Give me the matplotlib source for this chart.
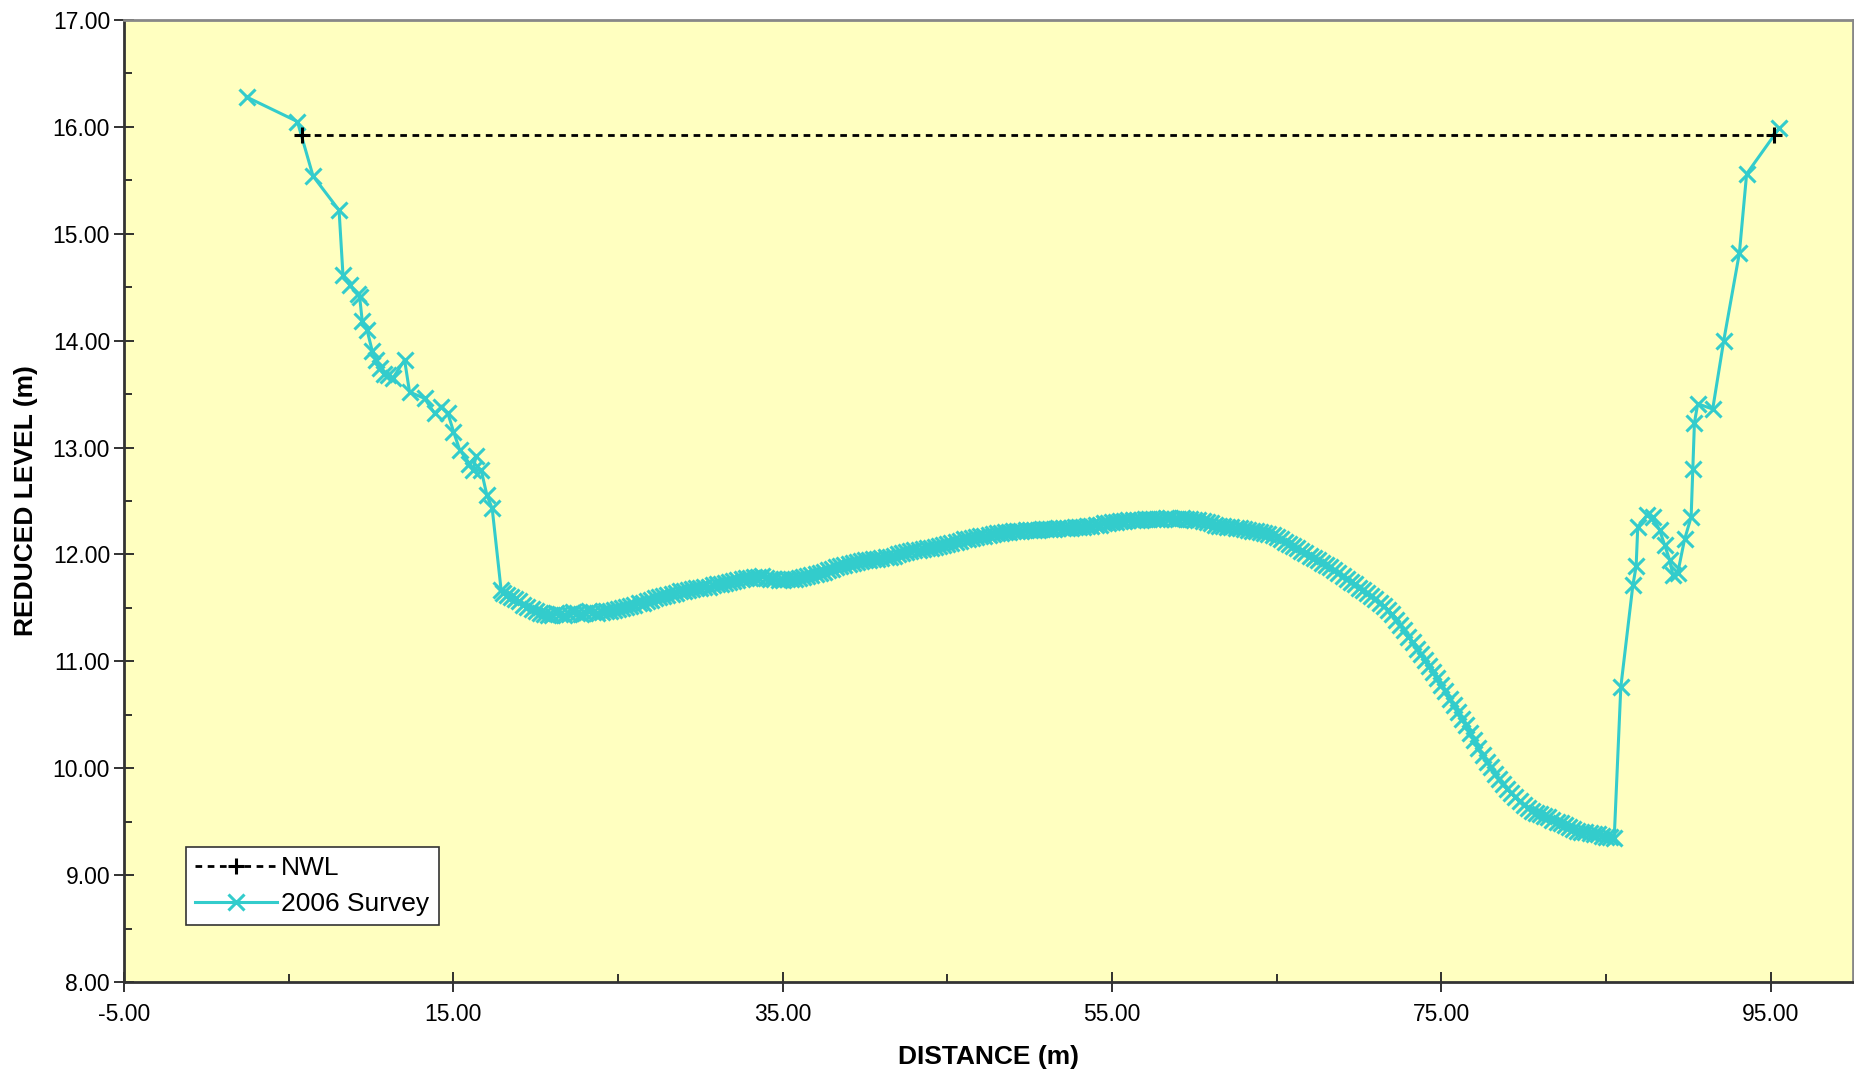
import matplotlib
matplotlib.use("Agg")
import matplotlib.pyplot as plt
from matplotlib.ticker import MultipleLocator, FixedLocator, FormatStrFormatter

plt.rcParams["font.family"] = ["Liberation Sans", "DejaVu Sans"]

# ── data ─────────────────────────────────────────────
nwl_x = [5.81, 95.2]
nwl_y = [15.92, 15.92]

# left bank
bank_l_x = [2.44, 5.53, 6.48, 8.06, 8.30, 8.71, 9.21, 9.31, 9.47, 9.76,
            10.08, 10.32, 10.52, 10.77, 11.03, 11.33, 12.04, 12.34, 13.25, 13.86,
            14.27, 14.67, 15.01, 15.38, 15.98, 16.39, 16.18, 16.69, 17.03, 17.36,
            17.90]
bank_l_y = [16.28, 16.05, 15.54, 15.22, 14.61, 14.52, 14.44, 14.41, 14.18, 14.10,
            13.90, 13.82, 13.74, 13.69, 13.68, 13.65, 13.82, 13.52, 13.46, 13.32,
            13.38, 13.32, 13.15, 12.98, 12.85, 12.92, 12.79, 12.79, 12.56, 12.43,
            11.67]

# channel bed (dense survey)
bed_x = [18.00, 18.25, 18.50, 18.75, 19.00, 19.25, 19.50, 19.75, 20.00, 20.25,
         20.50, 20.75, 21.00, 21.25, 21.50, 21.75, 22.00, 22.25, 22.50, 22.75,
         23.00, 23.25, 23.50, 23.75, 24.00, 24.25, 24.50, 24.75, 25.00, 25.25,
         25.50, 25.75, 26.00, 26.25, 26.50, 26.75, 27.00, 27.25, 27.50, 27.75,
         28.00, 28.25, 28.50, 28.75, 29.00, 29.25, 29.50, 29.75, 30.00, 30.25,
         30.50, 30.75, 31.00, 31.25, 31.50, 31.75, 32.00, 32.25, 32.50, 32.75,
         33.00, 33.25, 33.50, 33.75, 34.00, 34.25, 34.50, 34.75, 35.00, 35.25,
         35.50, 35.75, 36.00, 36.25, 36.50, 36.75, 37.00, 37.25, 37.50, 37.75,
         38.00, 38.25, 38.50, 38.75, 39.00, 39.25, 39.50, 39.75, 40.00, 40.25,
         40.50, 40.75, 41.00, 41.25, 41.50, 41.75, 42.00, 42.25, 42.50, 42.75,
         43.00, 43.25, 43.50, 43.75, 44.00, 44.25, 44.50, 44.75, 45.00, 45.25,
         45.50, 45.75, 46.00, 46.25, 46.50, 46.75, 47.00, 47.25, 47.50, 47.75,
         48.00, 48.25, 48.50, 48.75, 49.00, 49.25, 49.50, 49.75, 50.00, 50.25,
         50.50, 50.75, 51.00, 51.25, 51.50, 51.75, 52.00, 52.25, 52.50, 52.75,
         53.00, 53.25, 53.50, 53.75, 54.00, 54.25, 54.50, 54.75, 55.00, 55.25,
         55.50, 55.75, 56.00, 56.25, 56.50, 56.75, 57.00, 57.25, 57.50, 57.75,
         58.00, 58.25, 58.50, 58.75, 59.00, 59.25, 59.50, 59.75, 60.00, 60.25,
         60.50, 60.75, 61.00, 61.25, 61.50, 61.75, 62.00, 62.25, 62.50, 62.75,
         63.00, 63.25, 63.50, 63.75, 64.00, 64.25, 64.50, 64.75, 65.00, 65.25,
         65.50, 65.75, 66.00, 66.25, 66.50, 66.75, 67.00, 67.25, 67.50, 67.75,
         68.00, 68.25, 68.50, 68.75, 69.00, 69.25, 69.50, 69.75, 70.00, 70.25,
         70.50, 70.75, 71.00, 71.25, 71.50, 71.75, 72.00, 72.25, 72.50, 72.75,
         73.00, 73.25, 73.50, 73.75, 74.00, 74.25, 74.50, 74.75, 75.00, 75.25,
         75.50, 75.75, 76.00, 76.25, 76.50, 76.75, 77.00, 77.25, 77.50, 77.75,
         78.00, 78.25, 78.50, 78.75, 79.00, 79.25, 79.50, 79.75, 80.00, 80.25,
         80.50, 80.75, 81.00, 81.25, 81.50, 81.75, 82.00, 82.25, 82.50, 82.75,
         83.00, 83.25, 83.50, 83.75, 84.00, 84.25, 84.50, 84.75, 85.00, 85.25,
         85.50]
bed_y = [11.64, 11.62, 11.60, 11.58, 11.56, 11.53, 11.51, 11.49, 11.47, 11.45,
         11.44, 11.43, 11.43, 11.45, 11.44, 11.43, 11.44, 11.46, 11.45, 11.44,
         11.45, 11.47, 11.46, 11.45, 11.46, 11.47, 11.47, 11.48, 11.49, 11.50,
         11.51, 11.52, 11.53, 11.55, 11.55, 11.56, 11.57, 11.59, 11.60, 11.61,
         11.62, 11.63, 11.64, 11.66, 11.66, 11.67, 11.68, 11.69, 11.69, 11.70,
         11.70, 11.71, 11.72, 11.72, 11.73, 11.74, 11.75, 11.76, 11.77, 11.78,
         11.78, 11.79, 11.79, 11.80, 11.78, 11.77, 11.77, 11.76, 11.76, 11.77,
         11.77, 11.77, 11.78, 11.79, 11.80, 11.81, 11.82, 11.83, 11.84, 11.85,
         11.86, 11.88, 11.89, 11.90, 11.91, 11.92, 11.93, 11.94, 11.95, 11.95,
         11.96, 11.96, 11.97, 11.98, 11.98, 11.99, 12.00, 12.01, 12.02, 12.03,
         12.04, 12.04, 12.05, 12.06, 12.06, 12.07, 12.08, 12.09, 12.10, 12.11,
         12.12, 12.13, 12.14, 12.14, 12.15, 12.16, 12.17, 12.17, 12.18, 12.19,
         12.20, 12.20, 12.21, 12.21, 12.22, 12.22, 12.22, 12.23, 12.23, 12.23,
         12.23, 12.24, 12.24, 12.24, 12.24, 12.25, 12.25, 12.25, 12.25, 12.26,
         12.26, 12.26, 12.27, 12.27, 12.28, 12.28, 12.29, 12.29, 12.30, 12.30,
         12.31, 12.31, 12.32, 12.32, 12.32, 12.32, 12.33, 12.33, 12.33, 12.33,
         12.33, 12.34, 12.34, 12.33, 12.33, 12.34, 12.33, 12.33, 12.32, 12.32,
         12.31, 12.30, 12.29, 12.28, 12.27, 12.27, 12.26, 12.26, 12.25, 12.25,
         12.24, 12.23, 12.22, 12.22, 12.21, 12.20, 12.19, 12.18, 12.16, 12.14,
         12.12, 12.10, 12.08, 12.06, 12.03, 12.01, 11.99, 11.97, 11.95, 11.92,
         11.90, 11.88, 11.85, 11.83, 11.80, 11.77, 11.74, 11.72, 11.69, 11.67,
         11.64, 11.61, 11.58, 11.55, 11.52, 11.48, 11.44, 11.39, 11.34, 11.29,
         11.23, 11.18, 11.12, 11.07, 11.01, 10.96, 10.90, 10.84, 10.78, 10.72,
         10.65, 10.59, 10.53, 10.46, 10.40, 10.33, 10.26, 10.19, 10.12, 10.06,
         10.01, 9.95, 9.90, 9.85, 9.81, 9.77, 9.73, 9.69, 9.66, 9.63,
         9.60, 9.58, 9.57, 9.55, 9.54, 9.52, 9.50, 9.49, 9.47, 9.45,
         9.43, 9.41, 9.40, 9.40, 9.39, 9.38, 9.38, 9.37, 9.36, 9.36,
         9.35]

# right bank
bank_r_x = [85.90, 86.63, 86.83, 86.93, 87.50, 87.85, 88.25, 88.56, 88.86, 89.06,
            89.36, 89.77, 90.17, 90.27, 90.37, 90.57, 91.48, 92.15, 93.10, 93.54,
            95.53]
bank_r_y = [10.76, 11.71, 11.89, 12.26, 12.37, 12.35, 12.23, 12.09, 11.95, 11.81,
            11.83, 12.14, 12.35, 12.80, 13.23, 13.41, 13.36, 14.00, 14.82, 15.56,
            15.99]

survey_x = bank_l_x + bed_x + bank_r_x
survey_y = bank_l_y + bed_y + bank_r_y

CYAN = "#33CCCC"

fig = plt.figure(figsize=(18.54, 10.8), dpi=100)
ax = fig.add_axes([124 / 1854, 1 - 982 / 1080, 1729 / 1854, 962 / 1080])
ax.set_facecolor("#FFFFC0")

ax.plot(nwl_x, nwl_y, color="black", lw=2, dashes=(2.4, 2.0),
        marker="+", ms=12, mew=2.2, label="NWL", zorder=3)
ax.plot(survey_x, survey_y, color=CYAN, lw=2.2, marker="x", ms=12, mew=2.2,
        label="2006 Survey", zorder=2)

ax.set_xlim(-5, 100)
ax.set_ylim(8, 17)
ax.xaxis.set_major_locator(FixedLocator([-5, 15, 35, 55, 75, 95]))
ax.xaxis.set_minor_locator(FixedLocator([5, 25, 45, 65, 85]))
ax.yaxis.set_major_locator(MultipleLocator(1))
ax.yaxis.set_minor_locator(MultipleLocator(0.5))
ax.xaxis.set_major_formatter(FormatStrFormatter("%.2f"))
ax.yaxis.set_major_formatter(FormatStrFormatter("%.2f"))
ax.tick_params(which="major", direction="inout", length=14, width=1.3,
               labelsize=16.5, color="#222222")
ax.tick_params(axis="x", which="major", pad=8)
ax.tick_params(axis="y", which="major", pad=3)
ax.tick_params(which="minor", direction="in", length=6, width=1.3, color="#222222")

for s in ["left", "bottom"]:
    ax.spines[s].set_color("#333333")
    ax.spines[s].set_linewidth(2)
for s in ["top", "right"]:
    ax.spines[s].set_color("#888888")
    ax.spines[s].set_linewidth(2)

fig.text(989 / 1854, 1 - 1057 / 1080, "DISTANCE (m)", ha="center", va="center",
         fontsize=19, fontweight="bold")
fig.text(26 / 1854, 1 - 501 / 1080, "REDUCED LEVEL (m)", ha="center", va="center",
         rotation=90, fontsize=19, fontweight="bold")

leg = ax.legend(loc="lower left", bbox_to_anchor=(0.036, 0.059), fontsize=19,
                frameon=True, fancybox=False, framealpha=1, edgecolor="#333333",
                handlelength=3.1, handletextpad=0.15, borderpad=0.35,
                labelspacing=0.45, borderaxespad=0)
leg.get_frame().set_linewidth(1.2)

fig.savefig("out.png", dpi=100)
